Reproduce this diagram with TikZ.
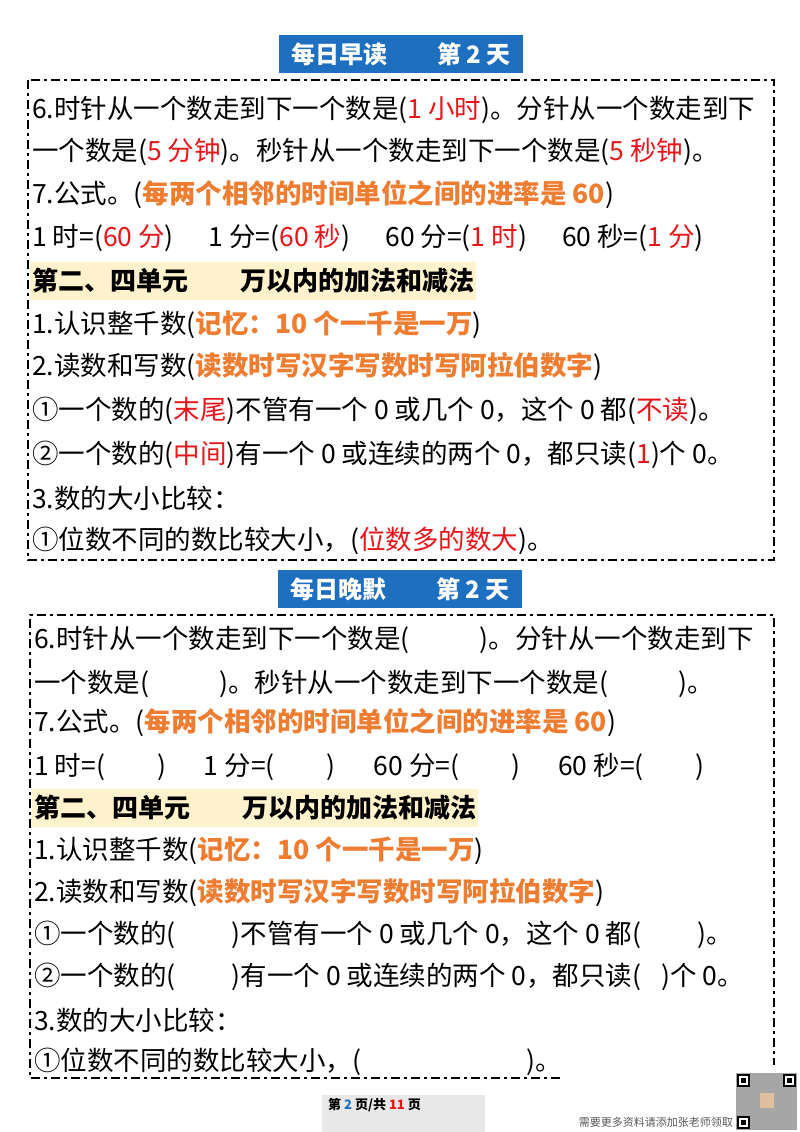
\documentclass[tikz,border=0pt]{standalone}
\usepackage{fontspec}
\setmainfont{Noto Sans CJK SC}
\definecolor{tblue}{HTML}{1F6FC0}
\definecolor{rd}{HTML}{E8161A}
\definecolor{og}{HTML}{EE7D31}
\definecolor{yl}{HTML}{FFF2CC}
\newcommand{\R}[1]{\textcolor{rd}{#1}}
\newcommand{\OG}[1]{\textcolor{og}{\bfseries #1}}
\newcommand{\gap}[1]{\hspace*{#1}}
\begin{document}
\begin{tikzpicture}[x=1pt,y=-1pt,
  ln/.style={anchor=west,inner sep=0pt,font=\fontsize{26.5}{26.5}\selectfont},
  ttl/.style={fill=tblue,text=white,inner sep=0pt,minimum height=38pt,minimum width=244pt,font=\fontsize{24}{24}\selectfont\bfseries},
  dbox/.style={line width=2pt,dash pattern=on 9pt off 4pt on 3pt off 4pt},
  hd/.style={anchor=west,fill=yl,inner xsep=2pt,minimum height=38pt,font=\fontsize{26}{26}\selectfont\bfseries}]
\useasboundingbox (0,0) rectangle (800,1132);
\fill[white] (0,0) rectangle (800,1132);
% top
\node[ttl] (t1) at (401,54) {每日早读\gap{50pt}第 2 天};
\draw[dbox] (28,80) rectangle (774,560);
\node[ln] (a1) at (32,110) {6.时针从一个数走到下一个数是(\R{1 小时})。分针从一个数走到下};
\node[ln] (a2) at (32,152) {一个数是(\R{5 分钟})。秒针从一个数走到下一个数是(\R{5 秒钟})。};
\node[ln] (a3) at (32,195) {7.公式。(\OG{每两个相邻的时间单位之间的进率是 60})};
\node[ln] (a4) at (32,238) {1 时=(\R{60 分})\gap{35pt}1 分=(\R{60 秒})\gap{35pt}60 分=(\R{1 时})\gap{35pt}60 秒=(\R{1 分})};
\node[hd] (a5) at (30,281) {第二、四单元\gap{52pt}万以内的加法和减法};
\node[ln] (a6) at (32,325) {1.认识整千数(\OG{记忆：10 个一千是一万})};
\node[ln] (a7) at (32,367) {2.读数和写数(\OG{读数时写汉字写数时写阿拉伯数字})};
\node[ln] (a8) at (32,411) {①一个数的(\R{末尾})不管有一个 0 或几个 0，这个 0 都(\R{不读})。};
\node[ln] (a9) at (32,455) {②一个数的(\R{中间})有一个 0 或连续的两个 0，都只读(\R{1})个 0。};
\node[ln] (a10) at (32,498) {3.数的大小比较：};
\node[ln] (a11) at (32,541) {①位数不同的数比较大小，(\R{位数多的数大})。};
% bottom
\node[ttl] (t2) at (400,589) {每日晚默\gap{50pt}第 2 天};
\draw[dbox] (560,1078) -- (30,1078) -- (30,615) -- (774,615) -- (774,1065);
\node[ln] (b1) at (34,640) {6.时针从一个数走到下一个数是(\gap{70pt})。分针从一个数走到下};
\node[ln] (b2) at (34,684) {一个数是(\gap{70pt})。秒针从一个数走到下一个数是(\gap{70pt})。};
\node[ln] (b3) at (34,723) {7.公式。(\OG{每两个相邻的时间单位之间的进率是 60})};
\node[ln] (b4) at (34,767) {1 时=(\gap{52pt})\gap{38pt}1 分=(\gap{52pt})\gap{38pt}60 分=(\gap{52pt})\gap{38pt}60 秒=(\gap{52pt})};
\node[hd] (b5) at (32,808) {第二、四单元\gap{52pt}万以内的加法和减法};
\node[ln] (b6) at (34,851) {1.认识整千数(\OG{记忆：10 个一千是一万})};
\node[ln] (b7) at (34,893) {2.读数和写数(\OG{读数时写汉字写数时写阿拉伯数字})};
\node[ln] (b8) at (34,935) {①一个数的(\gap{56pt})不管有一个 0 或几个 0，这个 0 都(\gap{56pt})。};
\node[ln] (b9) at (34,977) {②一个数的(\gap{56pt})有一个 0 或连续的两个 0，都只读(\gap{20pt})个 0。};
\node[ln] (b10) at (34,1020) {3.数的大小比较：};
\node[ln] (b11) at (34,1062) {①位数不同的数比较大小，(\gap{165pt})。};
% footer
\fill[black!9] (322,1095) rectangle (485,1132);
\node[anchor=west,inner sep=0pt,font=\fontsize{13}{13}\selectfont\bfseries] (pg) at (328,1105) {第 \textcolor{tblue}{2} 页/共 \textcolor{rd}{11} 页};
\node[anchor=east,inner sep=0pt,text=black!65,font=\fontsize{11}{11}\selectfont] (nt) at (733,1122) {需要更多资料请添加张老师领取};
\fill[black!35] (736,1073) rectangle (797,1130);
\foreach \px/\py in {737/1074,783/1074,737/1116}{\fill[black] (\px,\py) rectangle ++(13,13); \fill[white] (\px+2,\py+2) rectangle ++(9,9); \fill[black] (\px+4,\py+4) rectangle ++(5,5);}
\fill[brown!50] (760,1093) rectangle (774,1108);
\end{tikzpicture}
\end{document}
